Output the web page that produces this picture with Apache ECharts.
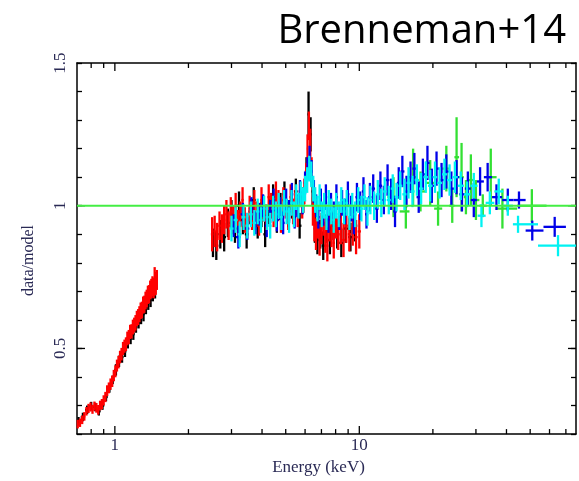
<!DOCTYPE html>
<html><head><meta charset="utf-8">
<script src="https://cdn.jsdelivr.net/npm/echarts@6/dist/echarts.min.js"></script>
<style>html,body{margin:0;padding:0;background:#fff}#c{width:579px;height:481px}</style>
</head><body><div id="c"></div>
<script>
// ---------- axis ranges & ticks ----------
const X_MIN = 0.7, X_MAX = 77;
const Y_MIN = 0.2, Y_MAX = 1.5;
const xLabelTicks = [1, 10];
const xMinorTicks = [0.8, 0.9, 2, 3, 4, 5, 6, 7, 8, 9, 20, 30, 40, 50, 60, 70];
const yLabelTicks = [0.5, 1, 1.5];
const yMajorTicks = [0.5, 1.0];

// ---------- data: black (low energy) ----------
const blackLoE = [0.71,0.74,0.77,0.80,0.83,0.86,0.89,0.92,0.95,0.98,
  1.01,1.04,1.07,1.10,1.13,1.16,1.19,1.22,1.25,1.28,
  1.31,1.34,1.37,1.40,1.43,1.46];
const blackLoV = [0.245,0.26,0.285,0.298,0.295,0.28,0.3,0.33,0.36,0.39,
  0.425,0.455,0.47,0.49,0.52,0.535,0.55,0.575,0.59,0.605,
  0.62,0.645,0.66,0.67,0.69,0.7];
const blackLoErr = [0.015,0.015,0.015,0.015,0.015,0.015,0.015,0.015,0.015,0.015,
  0.02,0.02,0.02,0.02,0.02,0.02,0.02,0.02,0.02,0.02,
  0.025,0.025,0.025,0.025,0.025,0.025];

// ---------- data: red (low energy) ----------
const redLoE = [0.705,0.72,0.735,0.75,0.765,0.78,0.795,0.81,0.825,0.84,
  0.855,0.87,0.885,0.90,0.915,0.93,0.945,0.96,0.975,0.99,
  1.005,1.02,1.035,1.05,1.065,1.08,1.095,1.11,1.125,1.14,
  1.155,1.17,1.185,1.20,1.215,1.23,1.245,1.26,1.275,1.29,
  1.305,1.32,1.335,1.35,1.365,1.38,1.395,1.41,1.425,1.44,
  1.455,1.47,1.485];
const redLoV = [0.235,0.24,0.25,0.262,0.28,0.29,0.295,0.287,0.298,0.292,
  0.285,0.3,0.305,0.318,0.33,0.352,0.362,0.375,0.385,0.405,
  0.42,0.44,0.452,0.47,0.48,0.5,0.508,0.515,0.535,0.54,
  0.558,0.56,0.575,0.582,0.59,0.605,0.61,0.62,0.632,0.635,
  0.652,0.655,0.668,0.675,0.688,0.69,0.705,0.71,0.718,0.712,
  0.735,0.728,0.74];
const redLoErr = [0.015,0.015,0.015,0.015,0.015,0.016,0.016,0.016,0.016,0.017,
  0.017,0.017,0.018,0.018,0.018,0.019,0.019,0.02,0.02,0.02,
  0.021,0.021,0.022,0.022,0.022,0.023,0.023,0.024,0.024,0.025,
  0.025,0.025,0.026,0.026,0.027,0.027,0.028,0.028,0.029,0.029,
  0.03,0.03,0.031,0.031,0.032,0.032,0.033,0.034,0.035,0.036,
  0.05,0.04,0.035];

// ---------- data: black (2.5-10 keV) ----------
const blackHiE = [2.52,2.60,2.70,2.80,2.90,3.00,3.10,3.22,3.34,3.46,
  3.58,3.70,3.84,3.98,4.12,4.28,4.44,4.60,4.76,4.94,
  5.12,5.30,5.50,5.70,5.90,6.08,6.20,6.32,6.44,6.58,
  6.74,6.92,7.12,7.34,7.58,7.84,8.12,8.44,8.80,9.20,
  9.60];
const blackHiV = [0.87,0.86,0.90,0.89,0.94,0.97,0.92,1.00,0.95,0.90,
  0.98,1.02,0.93,0.97,0.90,0.98,1.03,0.95,1.00,1.04,
  0.97,1.00,1.05,0.93,1.02,1.12,1.32,1.25,1.05,0.92,
  0.88,0.90,0.86,0.92,0.88,0.93,0.90,0.87,0.92,0.89,
  0.93];
const blackHiErr = [0.05,0.05,0.05,0.05,0.05,0.05,0.05,0.05,0.05,0.05,
  0.045,0.045,0.045,0.045,0.045,0.045,0.045,0.045,0.045,0.045,
  0.045,0.045,0.045,0.045,0.045,0.05,0.08,0.06,0.05,0.05,
  0.05,0.05,0.05,0.05,0.05,0.05,0.05,0.05,0.05,0.05,
  0.055];

// ---------- data: red (2.5-10 keV) ----------
const redHiE = [2.50,2.56,2.62,2.68,2.74,2.80,2.86,2.92,2.98,3.05,
  3.12,3.19,3.26,3.33,3.40,3.48,3.56,3.64,3.72,3.80,
  3.89,3.98,4.07,4.16,4.26,4.36,4.46,4.56,4.67,4.78,
  4.89,5.00,5.12,5.24,5.36,5.48,5.60,5.72,5.84,5.96,
  6.06,6.14,6.22,6.30,6.38,6.46,6.55,6.65,6.76,6.88,
  7.00,7.13,7.26,7.40,7.55,7.70,7.86,8.03,8.20,8.40,
  8.62,8.85,9.10,9.40,9.70,10.0];
const redHiV = [0.90,0.91,0.89,0.93,0.92,0.95,0.97,0.93,0.98,0.95,
  1.00,0.94,0.97,1.02,0.95,0.93,0.99,0.96,1.01,0.97,
  0.94,1.02,0.99,0.96,1.03,1.00,0.97,1.04,1.01,0.95,
  1.02,1.00,0.96,1.03,0.98,1.01,0.97,1.04,1.00,1.05,
  1.10,1.20,1.28,1.22,1.12,0.98,0.93,0.90,0.94,0.88,
  0.92,0.95,0.89,0.86,0.93,0.91,0.87,0.94,0.90,0.92,
  0.88,0.93,0.90,0.92,0.89,0.91];
const redHiErr = [0.06,0.055,0.05,0.05,0.05,0.05,0.05,0.05,0.05,0.05,
  0.045,0.045,0.045,0.045,0.045,0.045,0.045,0.045,0.045,0.045,
  0.045,0.045,0.045,0.045,0.045,0.045,0.045,0.045,0.045,0.045,
  0.045,0.045,0.045,0.045,0.045,0.045,0.045,0.045,0.045,0.045,
  0.05,0.05,0.05,0.05,0.05,0.05,0.055,0.055,0.055,0.055,
  0.055,0.055,0.055,0.055,0.055,0.055,0.055,0.055,0.055,0.055,
  0.06,0.06,0.06,0.06,0.06,0.06];

// ---------- data: green ----------
const greenE = [13.8,15.5,16.6,17.8,19.5,21.0,22.7,24.0,25.0,26.2,27.3,28.6,30.0,32.0,34.5,38.5,50.8];
const greenV = [1.03,0.98,1.10,1.05,1.08,0.99,1.13,1.00,1.17,1.10,1.03,1.09,1.02,1.00,1.10,0.99,1.00];
const greenErr = [0.07,0.06,0.10,0.07,0.08,0.06,0.08,0.06,0.14,0.12,0.06,0.09,0.07,0.04,0.10,0.07,0.058];

// ---------- data: blue ----------
const blueE = [3.06,3.20,3.34,3.48,3.62,3.76,3.90,4.04,4.18,4.32,
  4.46,4.60,4.74,4.88,5.02,5.16,5.30,5.44,5.58,5.72,
  5.86,6.00,6.14,6.26,6.38,6.52,6.66,6.80,6.96,7.12,
  7.30,7.48,7.66,7.86,8.06,8.28,8.50,8.74,8.98,9.24,
  9.50,9.78,10.08,10.4,10.7,11.05,11.4,11.8,12.2,12.6,
  13.05,13.5,14.0,14.5,15.0,15.6,16.2,16.8,17.5,18.2,
  19.0,19.8,20.7,21.7,22.7,23.8,25.0,26.3,27.8,29.4,
  31.2,33.5,36.4,40.5,45.0,51.0,63.0];
const blueV = [0.93,0.89,0.97,0.92,0.99,0.94,0.97,1.00,0.93,0.98,
  1.02,0.95,0.99,0.94,1.02,0.98,1.04,0.96,1.00,1.05,
  1.01,1.08,1.13,1.17,1.12,1.05,1.00,0.96,1.02,0.97,
  1.03,0.95,1.00,0.97,1.03,0.96,1.01,0.98,1.04,0.99,
  0.95,1.03,1.00,1.05,0.97,1.03,1.06,0.99,1.07,1.02,
  1.09,1.04,0.98,1.08,1.12,1.05,1.10,1.13,1.03,1.11,
  1.15,1.07,1.13,1.09,1.12,1.06,1.10,1.04,1.06,1.02,
  1.085,1.10,1.03,1.02,1.02,0.913,0.926];
const blueErr = [0.04,0.04,0.04,0.04,0.04,0.04,0.04,0.04,0.04,0.04,
  0.04,0.04,0.04,0.04,0.04,0.04,0.04,0.04,0.04,0.04,
  0.04,0.04,0.04,0.04,0.04,0.04,0.04,0.04,0.04,0.04,
  0.045,0.045,0.045,0.045,0.045,0.045,0.045,0.045,0.045,0.045,
  0.05,0.05,0.05,0.05,0.05,0.05,0.05,0.05,0.05,0.05,
  0.055,0.055,0.055,0.055,0.055,0.055,0.055,0.055,0.055,0.055,
  0.06,0.06,0.06,0.06,0.06,0.06,0.06,0.06,0.06,0.06,
  0.05,0.05,0.045,0.04,0.03,0.035,0.035];

// ---------- data: cyan ----------
const cyanE = [3.00,3.12,3.24,3.36,3.48,3.60,3.72,3.84,3.96,4.08,
  4.20,4.32,4.44,4.56,4.68,4.80,4.92,5.04,5.16,5.28,
  5.40,5.52,5.64,5.76,5.88,6.00,6.12,6.24,6.36,6.48,
  6.60,6.74,6.88,7.02,7.18,7.34,7.50,7.68,7.86,8.04,
  8.24,8.44,8.66,8.88,9.12,9.36,9.62,9.90,10.2,10.5,
  10.8,11.1,11.5,11.9,12.3,12.7,13.2,13.7,14.2,14.7,
  15.3,15.9,16.5,17.2,17.9,18.7,19.5,20.4,21.3,22.3,
  23.4,24.6,26.0,27.6,29.4,31.6,34.2,37.2,40.5,44.6,
  65.0];
const cyanV = [0.92,0.95,0.90,0.96,0.93,0.97,0.94,0.98,0.95,0.99,
  0.96,0.93,0.99,0.97,1.00,0.96,1.01,0.98,0.95,1.01,
  0.97,1.03,1.00,1.04,1.02,1.06,1.09,1.13,1.11,1.06,
  1.02,0.99,1.03,0.97,1.00,0.96,1.01,0.98,0.95,1.00,
  0.97,1.02,0.98,1.01,0.96,1.00,0.97,1.02,0.99,1.03,
  0.98,1.02,1.00,1.04,1.01,1.05,1.02,1.06,1.03,1.07,
  1.04,1.08,1.05,1.09,1.06,1.10,1.07,1.10,1.08,1.11,
  1.09,1.10,1.07,1.04,1.07,0.965,1.01,1.05,1.00,0.935,
  0.86];
const cyanErr = [0.045,0.045,0.045,0.045,0.045,0.045,0.045,0.045,0.045,0.045,
  0.045,0.045,0.045,0.045,0.045,0.045,0.045,0.045,0.045,0.045,
  0.045,0.045,0.045,0.045,0.045,0.045,0.045,0.045,0.045,0.045,
  0.045,0.045,0.045,0.045,0.045,0.045,0.045,0.045,0.045,0.045,
  0.045,0.045,0.045,0.045,0.045,0.045,0.045,0.045,0.045,0.045,
  0.05,0.05,0.05,0.05,0.05,0.05,0.05,0.05,0.05,0.05,
  0.055,0.055,0.055,0.055,0.055,0.055,0.055,0.055,0.055,0.055,
  0.055,0.055,0.05,0.045,0.045,0.04,0.04,0.045,0.035,0.03,
  0.037];

// model ratio line
const unityLine = [[X_MIN, 1], [X_MAX, 1]];

// ---------- build ----------
function errData(E, V, D) {
  return E.map((e, i) => {
    const lo = i > 0 ? Math.sqrt(E[i - 1] * e) : e * e / Math.sqrt(e * E[i + 1]);
    const hi = i < E.length - 1 ? Math.sqrt(e * E[i + 1]) : e * e / Math.sqrt(E[i - 1] * e);
    return [e, Math.max(lo, X_MIN), Math.min(hi, X_MAX), V[i], D[i]];
  });
}
function errSeries(name, color, E, V, D) {
  return {
    type: 'custom', name, xAxisIndex: 0, yAxisIndex: 0, silent: true,
    data: errData(E, V, D), encode: { x: 0, y: 3 },
    renderItem(p, api) {
      const e = api.value(0), lo = api.value(1), hi = api.value(2), v = api.value(3), d = api.value(4);
      const a = api.coord([lo, v]), b = api.coord([hi, v]);
      const t = api.coord([e, Math.min(v + d, Y_MAX)]), u = api.coord([e, Math.max(v - d, Y_MIN)]);
      const st = { stroke: color, lineWidth: 2.3, fill: null };
      return { type: 'group', children: [
        { type: 'line', shape: { x1: a[0], y1: a[1], x2: b[0], y2: b[1] }, style: st },
        { type: 'line', shape: { x1: t[0], y1: t[1], x2: u[0], y2: u[1] }, style: st }
      ]};
    }
  };
}
function xTickSeries(ticks, len) {
  return {
    type: 'custom', silent: true, xAxisIndex: 0, yAxisIndex: 0,
    data: ticks.map(v => [v, Y_MIN]), encode: { x: 0, y: 1 },
    renderItem(p, api) {
      const v = api.value(0);
      const b = api.coord([v, Y_MIN]), t = api.coord([v, Y_MAX]);
      const st = { stroke: '#000', lineWidth: 1.3 };
      return { type: 'group', children: [
        { type: 'line', shape: { x1: b[0], y1: b[1], x2: b[0], y2: b[1] - len }, style: st },
        { type: 'line', shape: { x1: t[0], y1: t[1], x2: t[0], y2: t[1] + len }, style: st }
      ]};
    }
  };
}
function yTickSeries(ticks, len) {
  return {
    type: 'custom', silent: true, xAxisIndex: 0, yAxisIndex: 0,
    data: ticks.map(v => [X_MIN, v]), encode: { x: 0, y: 1 },
    renderItem(p, api) {
      const v = api.value(1);
      const l = api.coord([X_MIN, v]), r = api.coord([X_MAX, v]);
      const st = { stroke: '#000', lineWidth: 1.3 };
      return { type: 'group', children: [
        { type: 'line', shape: { x1: l[0], y1: l[1], x2: l[0] + len, y2: l[1] }, style: st },
        { type: 'line', shape: { x1: r[0], y1: r[1], x2: r[0] - len, y2: r[1] }, style: st }
      ]};
    }
  };
}
const near = (v, arr) => arr.find(t => Math.abs(v - t) < 1e-6);
const labelColor = '#2a2a55';
const serif = 'Liberation Serif';

const chart = echarts.init(document.getElementById('c'), null, { renderer: 'canvas' });
chart.setOption({
  animation: false,
  backgroundColor: '#fff',
  title: {
    text: 'Brenneman+14', right: 8, top: 7,
    textStyle: { fontFamily: 'Open Sans', fontSize: 40, fontWeight: 'normal', color: '#000' }
  },
  grid: { left: 77, right: -2, top: 63, bottom: 44 },
  xAxis: [
    {
      type: 'log', logBase: 10, min: X_MIN, max: X_MAX, position: 'bottom',
      axisLine: { show: true, lineStyle: { color: '#000', width: 1.5 } },
      axisTick: { show: false }, splitLine: { show: false },
      axisLabel: {
        margin: 3, fontFamily: serif, fontSize: 17, color: labelColor,
        showMinLabel: true, showMaxLabel: true,
        formatter: v => { const t = near(v, xLabelTicks); return t === undefined ? '' : String(t); }
      },
      name: 'Energy (keV)', nameLocation: 'middle', nameGap: 23,
      nameTextStyle: { fontFamily: serif, fontSize: 17, color: labelColor, padding: [0, 16, 0, 0] }
    },
    {
      type: 'log', logBase: 10, min: X_MIN, max: X_MAX, position: 'top',
      axisLine: { show: true, lineStyle: { color: '#000', width: 1.5 } },
      axisTick: { show: false }, axisLabel: { show: false }, splitLine: { show: false }
    }
  ],
  yAxis: [
    {
      type: 'value', min: Y_MIN, max: Y_MAX, interval: 0.1, position: 'left',
      axisLine: { show: true, lineStyle: { color: '#000', width: 1.5 } },
      axisTick: { show: true, inside: true, length: 5, lineStyle: { color: '#000', width: 1.3 } },
      splitLine: { show: false },
      axisLabel: {
        rotate: 90, margin: 8, fontFamily: serif, fontSize: 17, color: labelColor,
        showMinLabel: true, showMaxLabel: true,
        formatter: v => { const t = near(v, yLabelTicks); return t === undefined ? '' : String(t); }
      },
      name: 'data/model', nameLocation: 'middle', nameGap: 40, nameRotate: 90,
      nameTextStyle: { fontFamily: serif, fontSize: 16, color: labelColor, padding: [0, 24, 0, 0] }
    },
    {
      type: 'value', min: Y_MIN, max: Y_MAX, interval: 0.1, position: 'right',
      axisLine: { show: true, lineStyle: { color: '#000', width: 1.5 } },
      axisTick: { show: true, inside: true, length: 5, lineStyle: { color: '#000', width: 1.3 } },
      axisLabel: { show: false }, splitLine: { show: false }
    }
  ],
  series: [
    errSeries('black-lo', '#000000', blackLoE, blackLoV, blackLoErr),
    errSeries('red-lo', '#ff0000', redLoE, redLoV, redLoErr),
    errSeries('black-hi', '#000000', blackHiE, blackHiV, blackHiErr),
    errSeries('red-hi', '#ff0000', redHiE, redHiV, redHiErr),
    errSeries('green', '#33e033', greenE, greenV, greenErr),
    errSeries('blue', '#0000e8', blueE, blueV, blueErr),
    errSeries('cyan', '#00f2f2', cyanE, cyanV, cyanErr),
    {
      type: 'line', name: 'model', xAxisIndex: 0, yAxisIndex: 0, data: unityLine,
      symbol: 'none', silent: true, z: 5,
      lineStyle: { color: '#44ee44', width: 2 }
    },
    xTickSeries(xMinorTicks, 5),
    xTickSeries(xLabelTicks, 8),
    yTickSeries(yMajorTicks, 8)
  ]
});
</script>
</body></html>
